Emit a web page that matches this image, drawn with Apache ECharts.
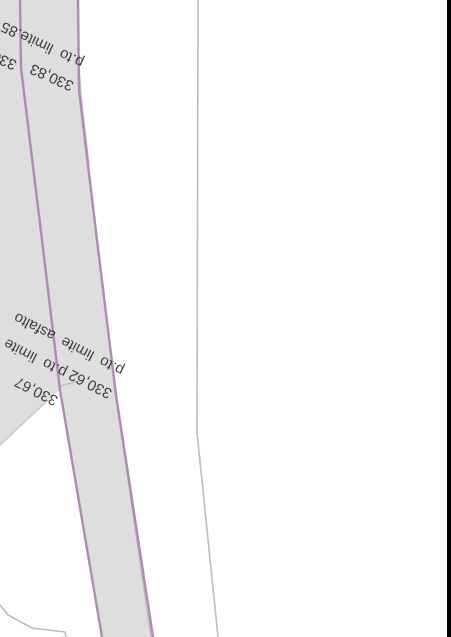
<!DOCTYPE html>
<html><head><meta charset="utf-8">
<style>html,body{margin:0;padding:0;background:#fff}#c{width:451px;height:637px}</style>
<script src="https://cdn.jsdelivr.net/npm/echarts@6/dist/echarts.min.js"></script>
</head><body><div id="c"></div>
<script>
const parcelLeft=[[-5,0],[20,0],[21,68],[60,390],[48,400],[0,445],[-5,445]];
const parcelBand=[[20,0],[78,0],[79,90],[116,395],[153,637],[102,637],[60,390],[21,68]];
const edgeBar=[[447,0],[451,0],[451,637],[447,637]];
const purpleLeft=[[20,0],[21,68],[42,240],[60,390],[102,637]];
const purpleRight=[[78,0],[79,90],[97,240],[116,395],[153,637]];
const grayInnerTop=[[79,65],[81,95],[89,165]];
const grayInnerBottom=[[116,395],[128,480],[151,637]];
const graySeparator=[[60,386],[83,380]];
const grayDiagonal=[[48,400],[0,445]];
const grayFar=[[198,0],[197,432],[218,637]];
const grayCorner=[[0,605],[8,615],[32,628],[65,632],[66,637]];
const labelTexts=['p.to  limite  asfalto','330,62','p.to  limite  asfalto','330,67','p.to  limite.85','330,83','330,85'];
const labelPoints=[[123,371],[111,394],[66,373],[57,401],[83,63],[73,86],[16,65]];
const labelAngles=[153,153,153,153,155,156,156];

const polyline=(d,color,width)=>({type:'line',data:d,symbol:'none',silent:true,animation:false,clip:false,
  lineStyle:{color:color,width:width},z:3});
const polygon=(d,color,z)=>({type:'custom',data:d,silent:true,animation:false,clip:false,z:z,
  encode:{x:0,y:1},
  renderItem:(p,api)=>p.dataIndex===0?{type:'polygon',shape:{points:d.map(q=>api.coord(q))},style:{fill:color}}:null});

const chart=echarts.init(document.getElementById('c'),null,{renderer:'canvas',width:451,height:637});
chart.setOption({
  backgroundColor:'#fff',
  animation:false,
  grid:{left:0,right:0,top:0,bottom:0},
  xAxis:{type:'value',min:0,max:451,show:false},
  yAxis:{type:'value',min:0,max:637,inverse:true,show:false},
  series:[
    polygon(parcelLeft,'#dedede',1),
    polygon(parcelBand,'#dedede',1),
    polyline(grayInnerTop,'#c4c4c4',1.4),
    polyline(grayInnerBottom,'#bdbdbd',1.4),
    polyline(graySeparator,'#c0c0c0',1.4),
    polyline(grayDiagonal,'#c8c8c8',1.6),
    polyline(grayFar,'#bcbcbc',1.6),
    polyline(grayCorner,'#bcbcbc',1.6),
    polyline(purpleLeft,'#ae8bb0',2.4),
    polyline(purpleRight,'#ae8bb0',2.4),
    polygon(edgeBar,'#000',5),
    {type:'scatter',silent:true,animation:false,clip:false,z:6,symbolSize:0,
     data:labelPoints.map((p,i)=>({value:p,label:{show:true,position:'inside',formatter:labelTexts[i],rotate:labelAngles[i],
       fontFamily:'Liberation Sans',fontSize:15,color:'#111',align:'left',verticalAlign:'middle'}}))}
  ]
});
</script></body></html>
